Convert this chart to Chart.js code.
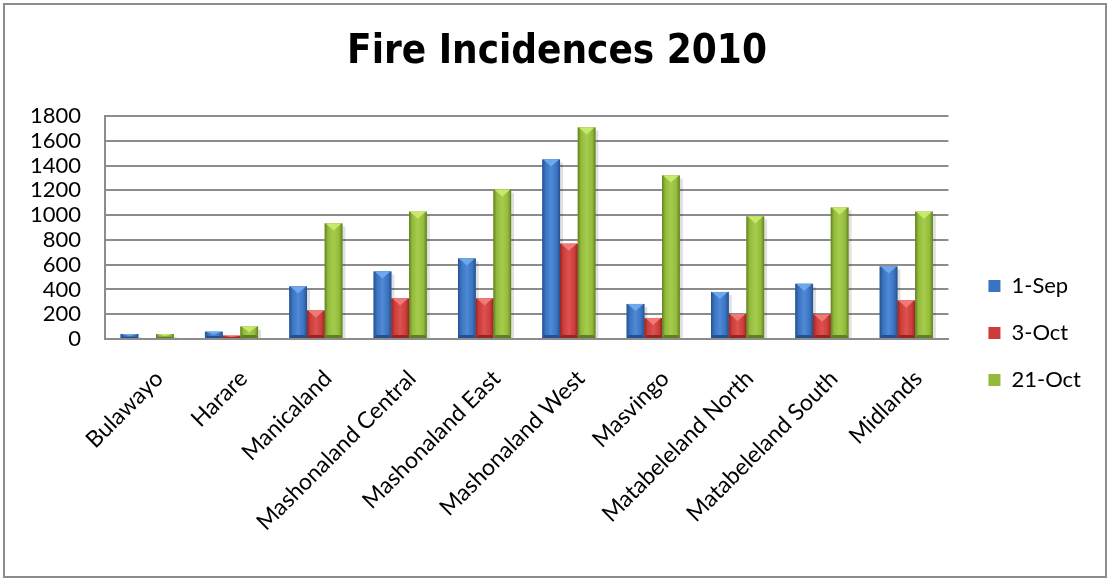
<!DOCTYPE html>
<html>
<head>
<meta charset="utf-8">
<script src="https://cdn.jsdelivr.net/npm/chart.js@4"></script>
<style>
  body { margin: 0; background: #fff; }
  #wrap { position: absolute; left: 0; top: 0; width: 1112px; height: 580px; }
</style>
</head>
<body>
<div id="wrap"><canvas id="fireChart" width="1112" height="580"></canvas></div>
<script>
const provinces = ['Bulawayo', 'Harare', 'Manicaland', 'Mashonaland Central', 'Mashonaland East',
  'Mashonaland West', 'Masvingo', 'Matabeleland North', 'Matabeleland South', 'Midlands'];
const sep1 = [40, 59, 424, 545, 650, 1449, 283, 380, 445, 585];
const oct3 = [8, 27, 229, 327, 327, 769, 170, 202, 197, 310];
const oct21 = [40, 100, 933, 1028, 1206, 1708, 1320, 990, 1061, 1028];
const yTicks = [0, 200, 400, 600, 800, 1000, 1200, 1400, 1600, 1800];

// base, dark edge, light middle, cap
const shades = [
  ['#3a73bf', '#24508f', '#4f8ad6', '#6fa8ec'],
  ['#cc3c3a', '#952624', '#dd5250', '#ef7a76'],
  ['#93bb3b', '#5f7f22', '#a6cc4c', '#c8e86c']
];

const frame = {
  id: 'frame',
  beforeDraw(c) {
    const ctx = c.ctx;
    ctx.save();
    ctx.fillStyle = '#fff';
    ctx.fillRect(0, 0, c.width, c.height);
    ctx.strokeStyle = '#8c8c8c';
    ctx.lineWidth = 2;
    ctx.strokeRect(4, 4, 1102, 573);
    ctx.restore();
  }
};

// nudge the legend block away from the plot, and the title a bit right
const shiftBoxes = {
  id: 'shiftBoxes',
  afterLayout(c) {
    const lg = c.legend;
    lg.left += 15; lg.right += 15;
    lg.top += 56; lg.bottom += 56;
    const t = c.titleBlock;
    t.left += 9; t.right += 9;
  }
};

// bevelled look for each bar
const bevel = {
  id: 'bevel',
  afterDatasetsDraw(c) {
    const ctx = c.ctx;
    c.data.datasets.forEach((ds, i) => {
      const s = shades[i];
      c.getDatasetMeta(i).data.forEach(bar => {
        const w = bar.width, L = bar.x - w / 2, R = bar.x + w / 2, T = bar.y, B = bar.base;
        const h = B - T;
        if (h <= 0) return;
        ctx.save();
        ctx.fillStyle = 'rgba(0,0,0,0.12)';
        ctx.fillRect(R, T + 3, 3, h - 3);
        const g = ctx.createLinearGradient(L, 0, R, 0);
        g.addColorStop(0, s[1]);
        g.addColorStop(0.18, s[0]);
        g.addColorStop(0.5, s[2]);
        g.addColorStop(0.82, s[0]);
        g.addColorStop(1, s[1]);
        ctx.fillStyle = g;
        ctx.fillRect(L, T, w, h);
        const cap = Math.min(w * 0.4, h / 2);
        ctx.fillStyle = s[3];
        ctx.beginPath();
        ctx.moveTo(L + 1, T);
        ctx.lineTo(R - 1, T);
        ctx.lineTo(bar.x, T + cap);
        ctx.closePath();
        ctx.fill();
        ctx.fillStyle = s[1];
        ctx.beginPath();
        ctx.moveTo(L, B);
        ctx.lineTo(R, B);
        ctx.lineTo(R - 2, B - Math.min(3, h / 3));
        ctx.lineTo(L + 2, B - Math.min(3, h / 3));
        ctx.closePath();
        ctx.fill();
        ctx.restore();
      });
    });
  }
};

const tickFont = { family: 'Lato, "Open Sans", sans-serif', size: 22 };

const chart = new Chart(document.getElementById('fireChart'), {
  type: 'bar',
  data: {
    labels: provinces,
    datasets: [
      { label: '1-Sep', data: sep1, backgroundColor: shades[0][0] },
      { label: '3-Oct', data: oct3, backgroundColor: shades[1][0] },
      { label: '21-Oct', data: oct21, backgroundColor: shades[2][0] }
    ]
  },
  options: {
    responsive: false,
    animation: false,
    categoryPercentage: 0.63,
    barPercentage: 1,
    layout: { padding: { left: 20, right: 36, top: 0, bottom: 26 } },
    plugins: {
      title: {
        display: true,
        text: 'Fire Incidences 2010',
        color: '#000',
        font: { family: '"DejaVu Sans Condensed", "Liberation Sans", sans-serif', size: 40, weight: 'bold' },
        padding: { top: 29, bottom: 39 }
      },
      legend: {
        position: 'right',
        labels: {
          color: '#000',
          font: tickFont,
          boxWidth: 12,
          boxHeight: 12,
          padding: 25
        }
      },
      tooltip: { enabled: false }
    },
    scales: {
      x: {
        grid: { display: false },
        border: { display: true, color: '#8c8c8c', width: 2 },
        ticks: {
          color: '#000', font: { family: tickFont.family, size: 23 },
          maxRotation: 45, minRotation: 45, padding: 18, labelOffset: 12
        }
      },
      y: {
        min: 0,
        max: 1800,
        afterBuildTicks: s => { s.ticks = yTicks.map(v => ({ value: v })); },
        afterFit: s => { s.width = 85; },
        grid: { color: '#8c8c8c', lineWidth: 2, drawTicks: false },
        border: { display: true, color: '#8c8c8c', width: 2 },
        ticks: { color: '#000', font: tickFont, padding: 24, autoSkip: false, callback: v => String(v) }
      }
    }
  },
  plugins: [frame, shiftBoxes, bevel]
});
</script>
</body>
</html>
